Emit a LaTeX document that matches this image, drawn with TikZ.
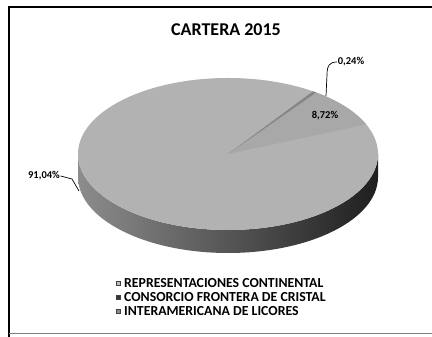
\documentclass[tikz,border=0pt]{standalone}
\usepackage{fontspec}
\setmainfont{Carlito}
\usetikzlibrary{calc}
\tikzset{
  lbl/.style={font=\bfseries\fontsize{10.5}{11}\selectfont, inner sep=0.5pt},
  leg/.style={font=\bfseries\fontsize{13.8}{14}\selectfont, anchor=west, inner sep=0pt},
  mk/.style={draw=gray!50!black, line width=0.3pt, minimum size=4.5pt, inner sep=0pt},
  leader/.style={line width=0.7pt, black}
}
\begin{document}
\begin{tikzpicture}[x=1pt,y=1pt]
\useasboundingbox (0,0) rectangle (432,337);
\fill[white] (0,0) rectangle (432,337);
% frame
\draw[line width=1.6pt] (432,330) -- (9,330) -- (9,0);
\draw[gray, line width=0.6pt] (9,4) -- (432,4);
% title
\node[font=\bfseries\fontsize{18}{18}\selectfont] (title) at (226,307) {CARTERA 2015};
% pie side
\shade[left color=black!45, middle color=black!70, right color=black!88]
  (78,183) -- (78,160) arc[start angle=180, end angle=360, x radius=150, y radius=76]
  -- (378,183) arc[start angle=0, end angle=-180, x radius=150, y radius=76] -- cycle;
% pie top
\coordinate (c) at (228,183);
\fill[black!30] (c) ellipse [x radius=150, y radius=76];
\fill[black!34] (c) -- ($(c)+(23:150pt and 76pt)$) arc[start angle=23, end angle=54, x radius=150, y radius=76] -- cycle;
\fill[black!48] (c) -- ($(c)+(54:150pt and 76pt)$) arc[start angle=54, end angle=55.5, x radius=150, y radius=76] -- cycle;
% labels
\node[lbl] (p024) at (351,275) {0,24\%};
\node[lbl] (p872) at (325,221) {8,72\%};
\node[lbl] (p9104) at (44,161) {91,04\%};
\coordinate (e024) at (326,241);
\coordinate (e9104) at (79,146);
\draw[leader] (p024.west) .. controls (330,275) and (327,272) .. (327,262) -- (e024);
\draw[leader] (p9104.east) -- (72,158) -- (e9104);
% legend
\node[mk, fill=black!25] (m1) at (118,54) {};
\node[leg] (l1) at (124,54) {REPRESENTACIONES CONTINENTAL};
\node[mk, fill=black!80] (m2) at (118,40) {};
\node[leg] (l2) at (124,40) {CONSORCIO FRONTERA DE CRISTAL};
\node[mk, fill=black!45] (m3) at (118,26) {};
\node[leg] (l3) at (124,26) {INTERAMERICANA DE LICORES};
\end{tikzpicture}
\end{document}
